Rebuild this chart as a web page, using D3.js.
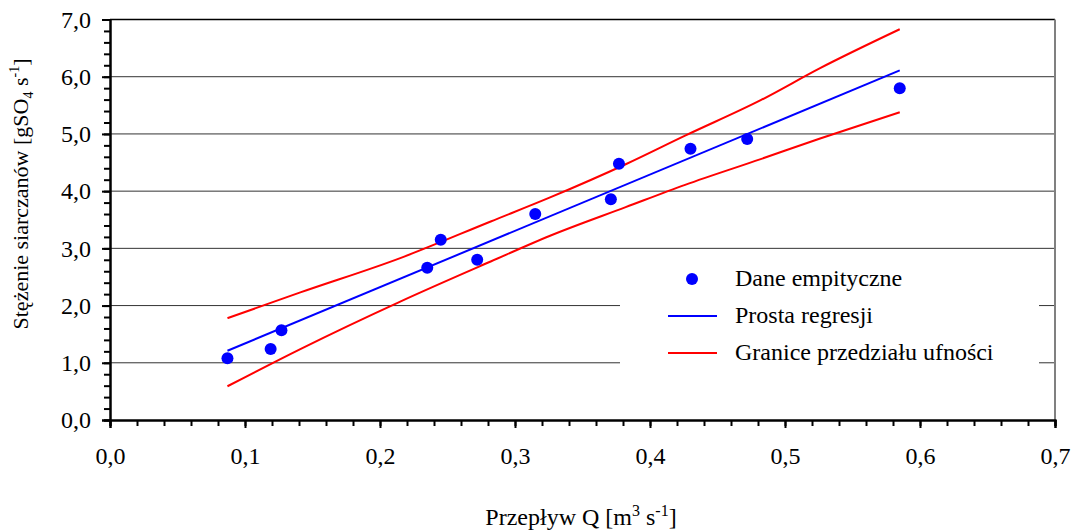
<!DOCTYPE html>
<html>
<head>
<meta charset="utf-8">
<script src="https://cdn.jsdelivr.net/npm/d3@7"></script>
<style>
  html, body { margin: 0; padding: 0; background: #fff; }
  svg { display: block; }
</style>
</head>
<body>
<svg id="chart" width="1073" height="531"></svg>
<script>
// ---- data ----
const pointsQ = [0.087, 0.119, 0.127, 0.235, 0.245, 0.272, 0.315, 0.371, 0.377, 0.430, 0.472, 0.585];
const pointsS = [1.08, 1.24, 1.57, 2.66, 3.15, 2.80, 3.60, 3.86, 4.48, 4.74, 4.91, 5.80];

const regressionQ = [0.087, 0.585];
const regressionS = [1.21, 6.11];

const bandQ = [0.087, 0.141, 0.215, 0.282, 0.326, 0.382, 0.426, 0.482, 0.526, 0.585];
const bandUpper = [1.78, 2.23, 2.83, 3.47, 3.89, 4.47, 4.97, 5.59, 6.15, 6.83];
const bandLower = [0.59, 1.24, 2.07, 2.77, 3.22, 3.72, 4.11, 4.56, 4.92, 5.38];

const xMajorTicks = [0, 0.1, 0.2, 0.3, 0.4, 0.5, 0.6, 0.7];
const yMajorTicks = [0, 1, 2, 3, 4, 5, 6, 7];
const legendLabels = ["Dane empityczne", "Prosta regresji", "Granice przedziału ufności"];

// ---- layout ----
const FONT = "'Liberation Serif', serif";
const svg = d3.select("#chart");
const x = d3.scaleLinear().domain([0, 0.7]).range([110, 1055]);
const y = d3.scaleLinear().domain([0, 7]).range([420, 19.5]);
const fmt = v => d3.format(".1f")(v).replace(".", ",");
const FS = 24;

// gridlines
svg.append("g").selectAll("line")
  .data(yMajorTicks.filter(v => v > 0 && v < 7))
  .join("line")
  .attr("x1", x(0)).attr("x2", x(0.7))
  .attr("y1", d => y(d)).attr("y2", d => y(d))
  .attr("stroke", "#333").attr("stroke-width", 1);

// legend background (covers gridlines)
svg.append("rect").attr("x", 620).attr("y", 258).attr("width", 419).attr("height", 150).attr("fill", "#fff");

// top & right border
svg.append("line").attr("x1", x(0)).attr("x2", x(0.7)).attr("y1", y(7)).attr("y2", y(7))
  .attr("stroke", "#000").attr("stroke-width", 1.5);
svg.append("line").attr("x1", x(0.7)).attr("x2", x(0.7)).attr("y1", y(7)).attr("y2", y(0))
  .attr("stroke", "#808080").attr("stroke-width", 2);

// axes
const xMinor = d3.axisBottom(x).tickValues(d3.range(0, 36).map(i => i * 0.02)).tickSize(6).tickFormat("");
const xMajor = d3.axisBottom(x).tickValues(xMajorTicks).tickSize(8).tickPadding(19).tickFormat(fmt);
const yMinor = d3.axisLeft(y).tickValues(d3.range(0, 36).map(i => i * 0.2)).tickSize(6).tickFormat("");
const yMajor = d3.axisLeft(y).tickValues(yMajorTicks).tickSize(8).tickPadding(11).tickFormat(fmt);

function styleAxis(g) {
  g.selectAll("path").attr("stroke", "#000").attr("stroke-width", 2);
  g.selectAll("line").attr("stroke", "#000").attr("stroke-width", 2);
  g.selectAll("text").attr("fill", "#000")
    .style("font-size", FS + "px").style("font-family", FONT);
}
svg.append("g").attr("transform", `translate(0,${y(0)})`).call(xMinor).call(styleAxis);
svg.append("g").attr("transform", `translate(0,${y(0)})`).call(xMajor).call(styleAxis);
svg.append("g").attr("transform", `translate(${x(0)},0)`).call(yMinor).call(styleAxis);
svg.append("g").attr("transform", `translate(${x(0)},0)`).call(yMajor).call(styleAxis);

// confidence bands
const line = d3.line().x(d => x(d[0])).y(d => y(d[1])).curve(d3.curveMonotoneX);
svg.append("path").datum(bandQ.map((q, i) => [q, bandUpper[i]]))
  .attr("d", line).attr("fill", "none").attr("stroke", "#ff0000").attr("stroke-width", 2);
svg.append("path").datum(bandQ.map((q, i) => [q, bandLower[i]]))
  .attr("d", line).attr("fill", "none").attr("stroke", "#ff0000").attr("stroke-width", 2);
// regression
svg.append("path").datum(regressionQ.map((q, i) => [q, regressionS[i]]))
  .attr("d", line).attr("fill", "none").attr("stroke", "#0000ff").attr("stroke-width", 2);
// points
svg.append("g").selectAll("circle")
  .data(pointsQ.map((q, i) => [q, pointsS[i]]))
  .join("circle")
  .attr("cx", d => x(d[0])).attr("cy", d => y(d[1])).attr("r", 6).attr("fill", "#0000ff");

// legend
const lg = svg.append("g");
const rows = [279, 316, 353];
lg.append("circle").attr("cx", 692).attr("cy", rows[0]).attr("r", 6).attr("fill", "#0000ff");
lg.append("line").attr("x1", 668).attr("x2", 717).attr("y1", rows[1]).attr("y2", rows[1]).attr("stroke", "#0000ff").attr("stroke-width", 2);
lg.append("line").attr("x1", 668).attr("x2", 717).attr("y1", rows[2]).attr("y2", rows[2]).attr("stroke", "#ff0000").attr("stroke-width", 2);
lg.selectAll("text").data(legendLabels).join("text")
  .attr("x", 735).attr("y", (d, i) => rows[i] + 7)
  .attr("fill", "#000")
  .style("font-size", FS + "px").style("font-family", FONT)
  .text(d => d);

// x title
const xt = svg.append("text").attr("x", 581).attr("y", 525).attr("text-anchor", "middle")
  .style("font-size", FS + "px").style("font-family", FONT);
xt.append("tspan").text("Przepływ Q [m");
xt.append("tspan").attr("dy", -9).style("font-size", "16px").text("3");
xt.append("tspan").attr("dy", 9).text(" s");
xt.append("tspan").attr("dy", -9).style("font-size", "16px").text("-1");
xt.append("tspan").attr("dy", 9).text("]");

// y title
const yt = svg.append("text").attr("transform", "translate(28,194) rotate(-90)")
  .attr("text-anchor", "middle")
  .style("font-size", "22px").style("font-family", FONT);
yt.append("tspan").text("Stężenie siarczanów [gSO");
yt.append("tspan").attr("dy", 5).style("font-size", "14px").text("4");
yt.append("tspan").attr("dy", -5).text(" s");
yt.append("tspan").attr("dy", -9).style("font-size", "14px").text("-1");
yt.append("tspan").attr("dy", 9).text("]");
</script>
</body>
</html>
